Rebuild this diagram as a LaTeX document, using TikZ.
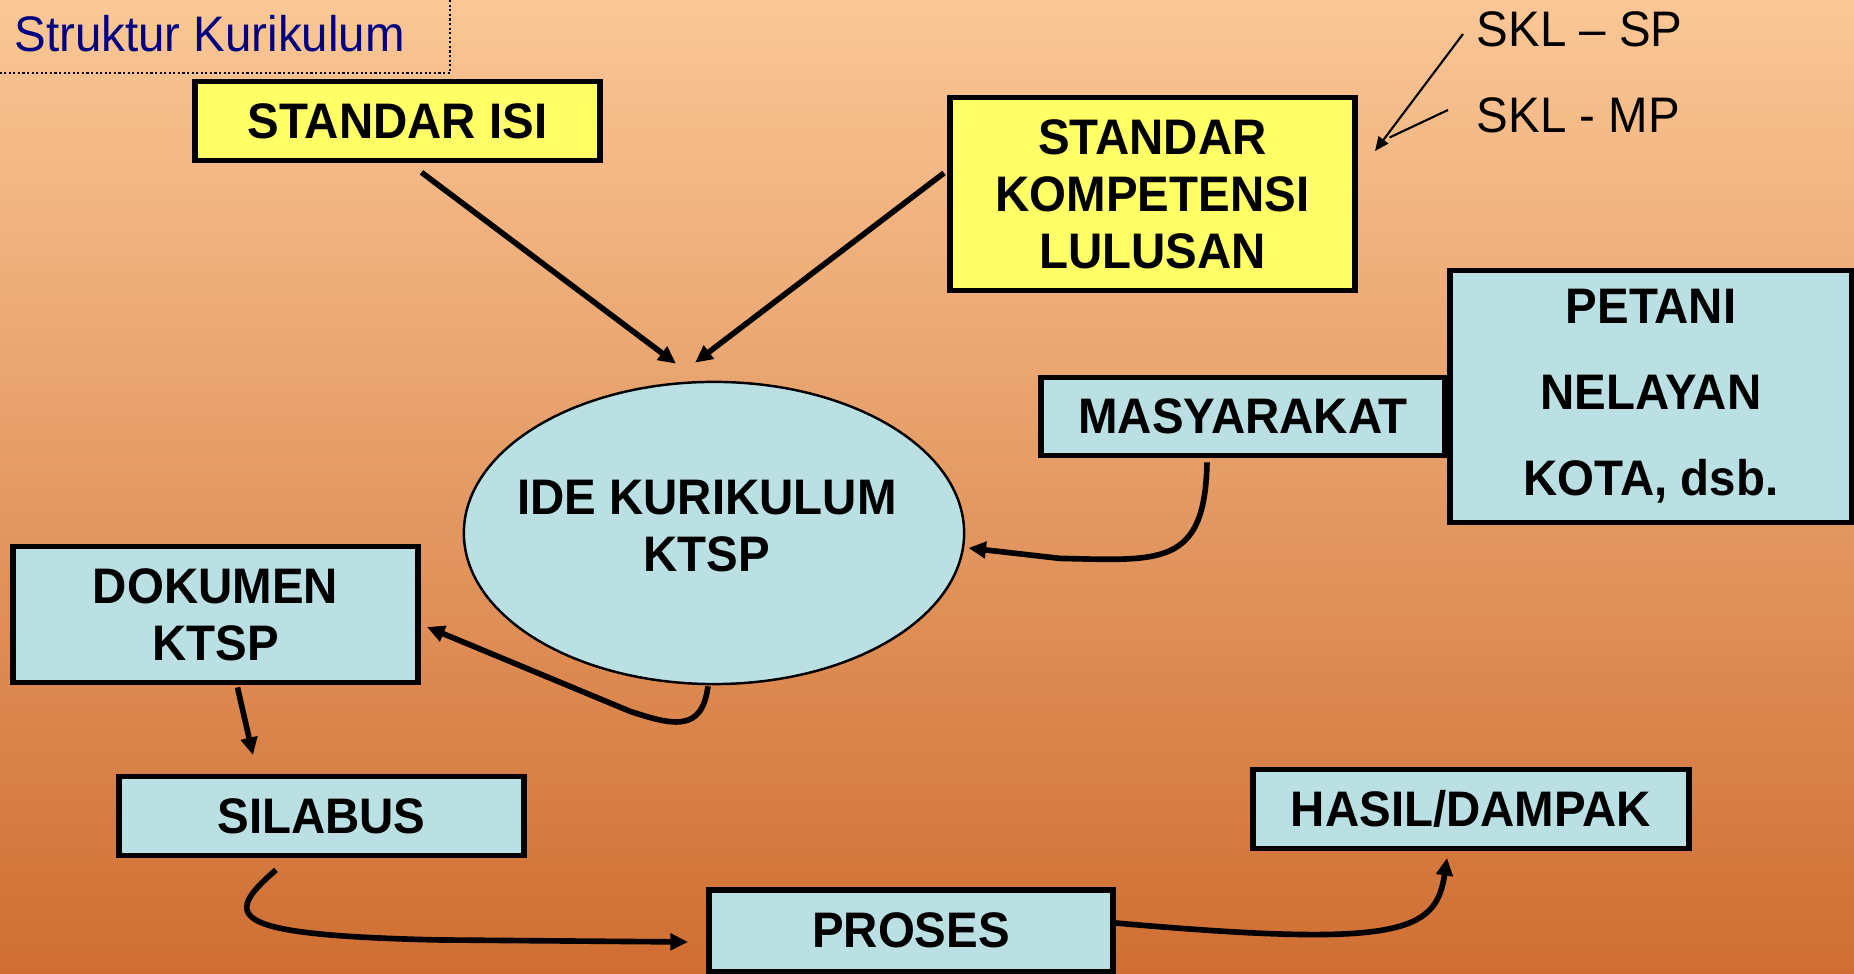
\documentclass[tikz,border=0pt]{standalone}
\usepackage{fontspec}
\setmainfont{Liberation Sans}[FakeStretch=0.95]
\usetikzlibrary{arrows.meta,calc,shapes.geometric}
\definecolor{bgtop}{RGB}{250,199,150}
\definecolor{bgbot}{RGB}{207,110,50}
\definecolor{boxblue}{RGB}{187,224,227}
\definecolor{boxyellow}{RGB}{255,255,102}
\definecolor{navytext}{RGB}{0,0,128}
\tikzset{
  bx/.style={draw=black, line width=1.65pt, fill=boxblue, inner sep=0pt, align=center,
    font=\fontsize{14.2pt}{16.2pt}\selectfont\bfseries},
  ybx/.style={bx, fill=boxyellow},
  arr/.style={line width=1.6pt, -{Triangle[length=5pt,width=4.6pt]}},
  thinarr/.style={line width=0.6pt, -{Triangle[length=4pt,width=3.4pt]}},
  plaintext/.style={inner sep=0pt, font=\fontsize{14.2pt}{16.2pt}\selectfont}
}
\begin{document}
\begin{tikzpicture}[x=0.01cm,y=-0.01cm]
\path[use as bounding box] (0,0) rectangle (1854,974);
\clip (0,0) rectangle (1854,974);
\shade[top color=bgtop,bottom color=bgbot] (0,0) rectangle (1854,974);

% title fragment
\draw[line width=0.6pt, dash pattern=on 0.6pt off 0.7pt] (-5,73) -- (450,73) -- (450,-5);
\node[plaintext, anchor=base west, text=navytext] (stk) at (14,52) {Struktur Kurikulum};

% nodes
\node[ybx, minimum width=4.04cm, minimum height=0.79cm] (isi) at (397.5,121) {STANDAR ISI};
\node[ybx, minimum width=4.04cm, minimum height=1.93cm] (skl) at (1152.5,194) {STANDAR\\KOMPETENSI\\LULUSAN};
\node[plaintext, anchor=west] (sp) at (1476,29) {SKL -- SP};
\node[plaintext, anchor=west] (mp) at (1476,115) {SKL - MP};

\node[ellipse, draw=black, line width=0.7pt, fill=boxblue, minimum width=5.0cm, minimum height=3.02cm, inner sep=0pt] (ell) at (714,533) {};
\node[inner sep=0pt, align=center, font=\fontsize{14.2pt}{16.2pt}\selectfont\bfseries] (elltext) at (707,526) {IDE KURIKULUM\\KTSP};

\node[bx, minimum width=4.02cm, minimum height=2.52cm, font=\fontsize{14.2pt}{24.5pt}\selectfont\bfseries] (pet) at (1651,396.5) {PETANI\\NELAYAN\\KOTA, dsb.};
\node[bx, minimum width=4.03cm, minimum height=0.78cm] (mas) at (1243,416.5) {MASYARAKAT};
\node[bx, minimum width=4.04cm, minimum height=1.36cm] (dok) at (215.5,614.5) {DOKUMEN\\KTSP};
\node[bx, minimum width=4.04cm, minimum height=0.79cm] (sil) at (321.5,816) {SILABUS};
\node[bx, minimum width=4.03cm, minimum height=0.82cm] (pro) at (911,931) {\raisebox{0.6pt}{PROSES}};
\node[bx, minimum width=4.35cm, minimum height=0.79cm] (has) at (1471,809) {HASIL/DAMPAK};

% connectors
\draw[arr] ($(isi.south)+(24,9)$) -- ($(ell.north)+(-38,-17)$);
\draw[arr] ($(skl.west)+(-3.5,-21)$) -- ($(ell.north)+(-19,-18)$);

\draw[thinarr] ($(sp.west)+(-13,5)$) -- ($(skl.north east)+(17.5,56.5)$);
\draw[line width=0.6pt] ($(mp.west)+(-28,-5)$) -- ($(skl.north east)+(32,43)$);

\coordinate (m1) at ($(mas.south)+(-36,4)$);
\coordinate (m2) at ($(ell.east)+(3,15)$);
\draw[arr] (m1) .. controls ($(m1)+(-2,105)$) and ($(m1)+(-47,98)$) .. ($(m1)+(-147,96)$) -- (m2);

\coordinate (e1) at ($(ell.south)+(-6,1)$);
\coordinate (e2) at ($(dok.east)+(6.5,12.5)$);
\draw[arr] (e1) .. controls ($(e1)+(-6,45)$) and ($(e1)+(-33,40)$) .. ($(e1)+(-78,25)$) -- (e2);

\draw[arr] ($(dok.south)+(22,2)$) -- ($(sil.north)+(-68.5,-18.5)$);

\coordinate (s1) at ($(sil.south)+(-45.5,11.5)$);
\coordinate (s2) at ($(pro.west)+(-18.5,11)$);
\draw[arr] (s1) .. controls ($(s1)+(-56,48)$) and ($(s1)+(-46,65)$) .. ($(s1)+(160,70)$) -- (s2);

\coordinate (p1) at ($(pro.east)+(0,-8)$);
\coordinate (p2) at ($(has.south)+(-24,6.5)$);
\draw[arr] (p1) .. controls ($(p1)+(284,25)$) and ($(p2)+(-11,75)$) .. (p2);
\end{tikzpicture}
\end{document}
